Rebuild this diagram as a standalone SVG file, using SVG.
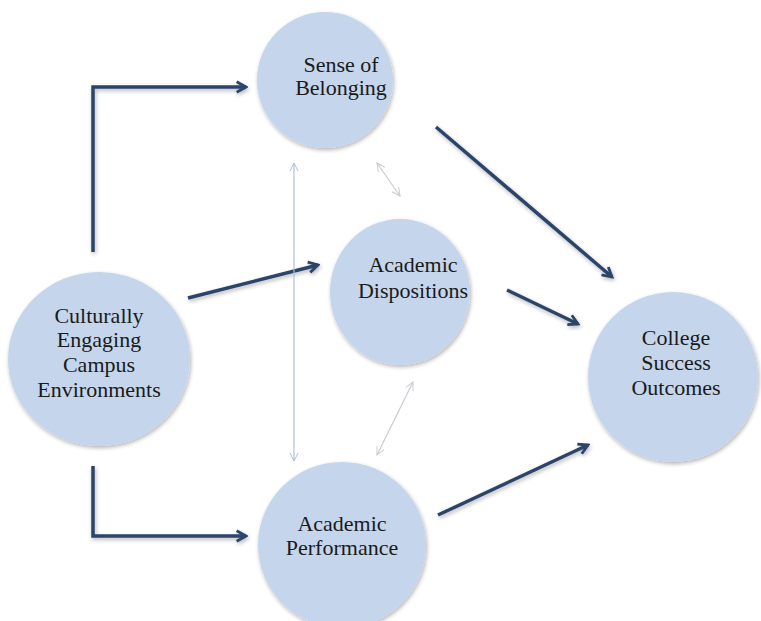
<svg xmlns="http://www.w3.org/2000/svg" width="761" height="621" viewBox="0 0 761 621">
<defs>
<filter id="sh" x="-20%" y="-20%" width="140%" height="140%">
<feGaussianBlur in="SourceAlpha" stdDeviation="2"/>
<feOffset dx="1" dy="2" result="b"/>
<feComponentTransfer><feFuncA type="linear" slope="0.3"/></feComponentTransfer>
<feMerge><feMergeNode/><feMergeNode in="SourceGraphic"/></feMerge>
</filter>
<marker id="ah" viewBox="0 0 12 12" refX="10" refY="6" markerWidth="4" markerHeight="4" orient="auto" markerUnits="strokeWidth">
<polyline points="2,1.5 10,6 2,10.5" fill="none" stroke="#2b4569" stroke-width="2.4" stroke-linejoin="miter"/>
</marker>
<marker id="lb" viewBox="0 0 12 12" refX="11" refY="6" markerWidth="10" markerHeight="10" orient="auto-start-reverse" markerUnits="strokeWidth">
<polyline points="3,2 11,6 3,10" fill="none" stroke="#a9c2e0" stroke-width="1"/>
</marker>
<marker id="lg" viewBox="0 0 12 12" refX="11" refY="6" markerWidth="10" markerHeight="10" orient="auto-start-reverse" markerUnits="strokeWidth">
<polyline points="3,2 11,6 3,10" fill="none" stroke="#c8ccd2" stroke-width="1"/>
</marker>
</defs>
<style>
.n{fill:#c5d6ec;filter:url(#sh)}
.t{font-family:"Liberation Serif","Times New Roman",serif;font-size:22px;fill:#1a1a1a;text-anchor:middle}
.a{fill:none;stroke:#2b4569;stroke-width:3.5;marker-end:url(#ah);filter:url(#sh)}
</style>
<rect width="761" height="621" fill="#ffffff"/>
<g id="n-sense"><circle class="n" cx="325" cy="80" r="68"/><text class="t" x="341" y="72">Sense of</text><text class="t" x="341" y="95">Belonging</text></g>
<g id="n-disp"><ellipse class="n" cx="400" cy="292" rx="70" ry="73"/><text class="t" x="413" y="272">Academic</text><text class="t" x="413" y="298">Dispositions</text></g>
<g id="n-cult"><ellipse class="n" cx="99" cy="359" rx="91" ry="87"/><text class="t" x="99" y="323">Culturally</text><text class="t" x="99" y="347">Engaging</text><text class="t" x="99" y="372">Campus</text><text class="t" x="99" y="397">Environments</text></g>
<g id="n-college"><circle class="n" cx="673" cy="377" r="85"/><text class="t" x="676" y="345">College</text><text class="t" x="676" y="370">Success</text><text class="t" x="676" y="395">Outcomes</text></g>
<g id="n-perf"><ellipse class="n" cx="342" cy="545" rx="84" ry="83"/><text class="t" x="342" y="531">Academic</text><text class="t" x="342" y="555">Performance</text></g>
<g id="connectors">
<path class="a" d="M93,252 V87 H246"/>
<path class="a" d="M93,466 V536 H246"/>
<path class="a" d="M188,298 L318,265"/>
<path class="a" d="M200,399 H578"/>
<path class="a" d="M436,127 L612,277"/>
<path class="a" d="M507,290 L578,324"/>
<path class="a" d="M438,515 L588,445"/>
<line x1="294" y1="163" x2="294" y2="461" stroke="#a9c2e0" stroke-width="1.2" marker-start="url(#lb)" marker-end="url(#lb)"/>
<line x1="377" y1="163" x2="400" y2="196" stroke="#c8ccd2" stroke-width="1.2" marker-start="url(#lg)" marker-end="url(#lg)"/>
<line x1="413" y1="382" x2="377" y2="455" stroke="#c8ccd2" stroke-width="1.2" marker-start="url(#lg)" marker-end="url(#lg)"/>
</g>
</svg>
